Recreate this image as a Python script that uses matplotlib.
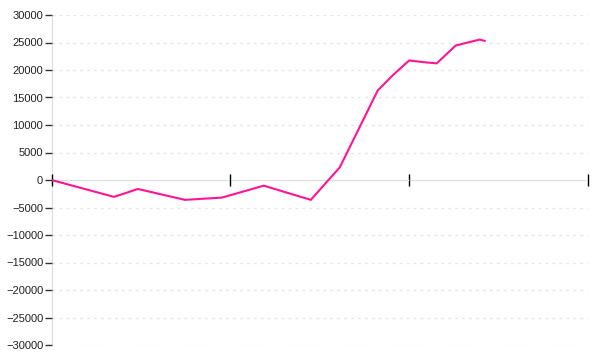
import matplotlib
matplotlib.use("Agg")
import matplotlib.pyplot as plt

x_vals = [0, 0.35, 0.483, 0.746, 0.953, 1.187, 1.45, 1.612, 1.824, 1.908, 2.0, 2.073, 2.154, 2.26, 2.394, 2.422]
y_vals = [0, -3070, -1630, -3610, -3200, -1030, -3610, 2300, 16260, 19030, 21740, 21450, 21200, 24450, 25530, 25300]
y_ticks = list(range(-30000, 30001, 5000))
x_ticks = [0, 1, 2, 3]

fig = plt.figure(figsize=(6, 3.6), dpi=100)
ax = fig.add_axes([51.5/600, 1-345/360, (588-51.5)/600, 330/360])
ax.plot(x_vals, y_vals, color="#ff1493", lw=1.5, zorder=3)
ax.set_xlim(0, 3)
ax.set_ylim(-30000, 30000)
ax.set_yticks(y_ticks)
ax.set_xticks(x_ticks)
ax.set_xticklabels([])
for s in ["top", "right"]:
    ax.spines[s].set_visible(False)
ax.spines["left"].set_color("#dddddd")
ax.spines["left"].set_zorder(0.5)
ax.spines["bottom"].set_position(("data", 0))
ax.spines["bottom"].set_color("#dddddd")
ax.spines["bottom"].set_zorder(0.5)
ax.tick_params(axis="x", direction="inout", length=9, color="black", width=1)
ax.tick_params(axis="y", direction="out", length=5, color="#333333", width=1,
               labelsize=8, labelcolor="#222222", pad=1)
for lab in ax.get_yticklabels():
    lab.set_fontfamily("Liberation Sans")
ax.yaxis.grid(True, linestyle=(0, (2, 3)), color="#e6e6e6", lw=1, zorder=0.2)
ax.set_axisbelow(True)
fig.savefig("out.png", dpi=100)
